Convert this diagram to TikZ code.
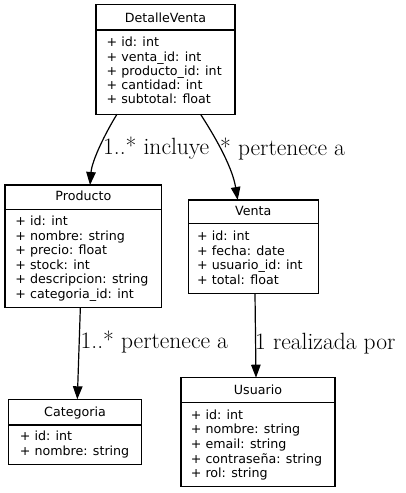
\documentclass[tikz,border=0pt]{standalone}
\usepackage{fontspec}
\newfontfamily\boxfont{DejaVu Sans}
\usetikzlibrary{arrows.meta}
\begin{document}
\begin{tikzpicture}[x=1pt,y=-1pt,
  classbox/.style={draw=black, line width=1.2pt, fill=white, inner sep=0pt, outer sep=0pt},
  divline/.style={draw=black, line width=1.2pt},
  title/.style={font=\boxfont\fontsize{12.65}{14}\selectfont, inner sep=0pt, anchor=base},
  attr/.style={font=\boxfont\fontsize{12.65}{14}\selectfont, inner sep=0pt, anchor=base west},
  rel/.style={draw=black, line width=1.2pt, -{Triangle[length=13pt,width=9.5pt]}},
  lbl/.style={font=\fontsize{23.5}{27}\selectfont, inner sep=0pt, anchor=base west}
]
\useasboundingbox (0,0) rectangle (405,493);

% DetalleVenta
\node[classbox, minimum width=139pt, minimum height=110pt] (dv) at (165.5,59.2) {};
\draw[divline] (dv.west |- 0,30) -- (dv.east |- 0,30);
\node[title] (dvt) at (165.5,22.7) {DetalleVenta};
\foreach \t [count=\i] in {{+ id: int},{+ venta\_id: int},{+ producto\_id: int},{+ cantidad: int},{+ subtotal: float}}
  \node[attr] (dva\i) at (106.5,{46.7+14.3*(\i-1)}) {\t};

% Producto
\node[classbox, minimum width=156.7pt, minimum height=122.7pt] (pr) at (83.35,246.35) {};
\draw[divline] (pr.west |- 0,209.3) -- (pr.east |- 0,209.3);
\node[title] (prt) at (83.35,200.7) {Producto};
\foreach \t [count=\i] in {{+ id: int},{+ nombre: string},{+ precio: float},{+ stock: int},{+ descripcion: string},{+ categoria\_id: int}}
  \node[attr] (pra\i) at (15.3,{225.7+14.5*(\i-1)}) {\t};

% Venta
\node[classbox, minimum width=130pt, minimum height=93.3pt] (ve) at (253.3,246.65) {};
\draw[divline] (ve.west |- 0,223.3) -- (ve.east |- 0,223.3);
\node[title] (vet) at (253.3,215.7) {Venta};
\foreach \t [count=\i] in {{+ id: int},{+ fecha: date},{+ usuario\_id: int},{+ total: float}}
  \node[attr] (vea\i) at (197,{240.7+14.5*(\i-1)}) {\t};

% Categoria
\node[classbox, minimum width=133.4pt, minimum height=65pt] (ca) at (75,431.8) {};
\draw[divline] (ca.west |- 0,425) -- (ca.east |- 0,425);
\node[title] (cat) at (75,416) {Categoria};
\foreach \t [count=\i] in {{+ id: int},{+ nombre: string}}
  \node[attr] (caa\i) at (19.7,{440.5+15*(\i-1)}) {\t};

% Usuario
\node[classbox, minimum width=154pt, minimum height=109pt] (us) at (258,432.2) {};
\draw[divline] (us.west |- 0,402.7) -- (us.east |- 0,402.7);
\node[title] (ust) at (258,394) {Usuario};
\foreach \t [count=\i] in {{+ id: int},{+ nombre: string},{+ email: string},{+ contraseña: string},{+ rol: string}}
  \node[attr] (usa\i) at (190.7,{419+14.7*(\i-1)}) {\t};

% Relations
\draw[rel] ([xshift=-48.5pt]dv.south) .. controls (106,132) and (92,160) .. ([xshift=6.65pt]pr.north);
\draw[rel] ([xshift=35pt]dv.south) .. controls (212,132) and (232,165) .. ([xshift=-15.6pt]ve.north);
\draw[rel] ([xshift=-3pt]pr.south) -- ([xshift=2.3pt]ca.north);
\draw[rel] ([xshift=1.7pt]ve.south) -- ([xshift=-2pt]us.north);

% Labels
\node[lbl] (l1) at (103,154.3) {1..* incluye};
\node[lbl] (l2) at (220,155) {* pertenece a};
\node[lbl] (l3) at (80.5,348.3) {1..* pertenece a};
\node[lbl] (l4) at (255,349) {1 realizada por};
\end{tikzpicture}
\end{document}
